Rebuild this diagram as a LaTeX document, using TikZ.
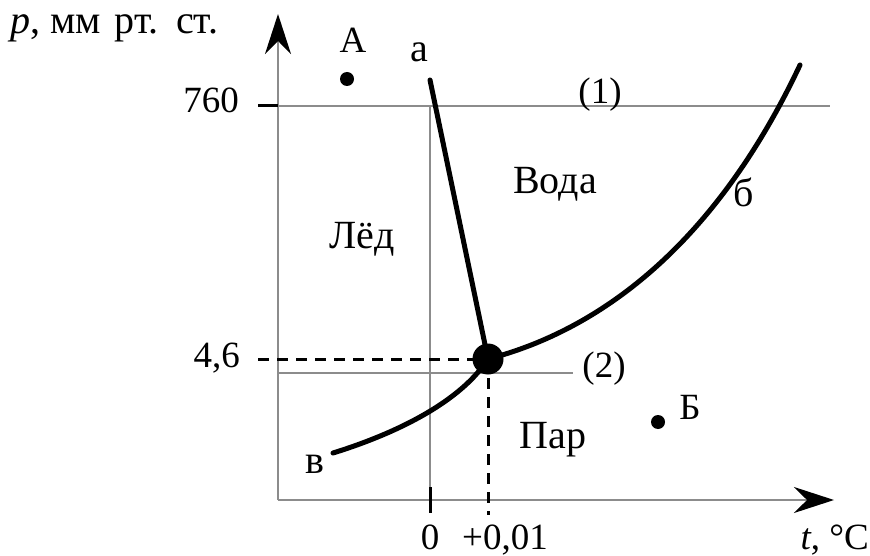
\documentclass[tikz,border=0pt]{standalone}
\usepackage{fontspec}
\setmainfont{Liberation Serif}
\usetikzlibrary{positioning,arrows.meta,calc}

\begin{document}
\begin{tikzpicture}[x=1pt,y=-1pt,>={Stealth[length=40pt,width=26pt,color=black]},
  grid line/.style={draw=black!45,line width=1.6pt},
  phase line/.style={line width=5pt,line cap=round},
  guide/.style={line width=3pt,dash pattern=on 11pt off 8pt},
  lbl/.style={font=\fontsize{37}{42}\selectfont,inner sep=0pt,anchor=base},
  word/.style={lbl,font=\fontsize{40}{46}\selectfont}]
\useasboundingbox (0,0) rectangle (870,556);
% axes
\coordinate (O) at (278,500);
\coordinate (ytip) at (278,14);
\coordinate (xtip) at (834,500);
\draw[grid line,->] (O) -- (ytip);
\draw[grid line,->] (O) -- (xtip);
% reference lines (1), (2) and t = 0
\coordinate (l1) at (278,106);
\coordinate (r1) at (830,106);
\coordinate (l2) at (278,373);
\coordinate (r2) at (573,373);
\coordinate (zt) at (430,106);
\coordinate (zb) at (430,500);
\draw[grid line] (l1) -- (r1);
\draw[grid line] (l2) -- (r2);
\draw[grid line] (zt) -- (zb);
\draw[line width=3pt] ($(l1)+(-20,0)$) -- (l1);
\draw[line width=3pt] ($(zb)+(0,-13)$) -- ($(zb)+(0,13)$);
% triple point
\node[circle,fill,inner sep=0pt,minimum size=31pt] (tp) at (488,359) {};
\coordinate (pl) at (258,359);
\coordinate (pb) at (488,515);
\draw[guide] (pl) -- (tp.center);
\draw[guide] (tp.center) -- (pb);
% phase boundaries
\coordinate (a) at (430,80);
\coordinate (b) at (800,65);
\coordinate (v) at (333,453);
\draw[phase line] (a) -- (tp.center);
\draw[phase line] (tp.center) .. controls (600,330) and (715,245) .. (b);
\draw[phase line] (v) .. controls (375,440) and (455,410) .. (tp.center);
% states A and B
\node[circle,fill,inner sep=0pt,minimum size=14pt] (ptA) at (347,79) {};
\node[circle,fill,inner sep=0pt,minimum size=14pt] (ptB) at (658,422) {};
% labels
\node[word,anchor=base west] (pax) at (10,34) {\textit{p}, мм\hspace{4pt} рт.\hspace{4pt} ст.};
\node[lbl,anchor=base east] (tax) at (869,549) {\textit{t}, °C};
\node[lbl,anchor=base east] (v760) at (239,113) {760};
\node[lbl,anchor=base east] (v46) at (240,367) {4,6};
\node[lbl] (t0) at (430,549) {0};
\node[lbl] (t001) at (505,549) {+0,01};
\node[lbl] (lA) at (353,53) {А};
\node[lbl] (lB) at (690,419) {Б};
\node[word] (la) at (419,62) {а};
\node[word] (lb) at (744,207) {б};
\node[word] (lv) at (315,473) {в};
\node[lbl] (l1lbl) at (600,104) {(1)};
\node[lbl] (l2lbl) at (604,377) {(2)};
\node[word] (ice) at (362,248) {Лёд};
\node[word] (water) at (555,194) {Вода};
\node[word] (vapor) at (553,448) {Пар};
\end{tikzpicture}
\end{document}
